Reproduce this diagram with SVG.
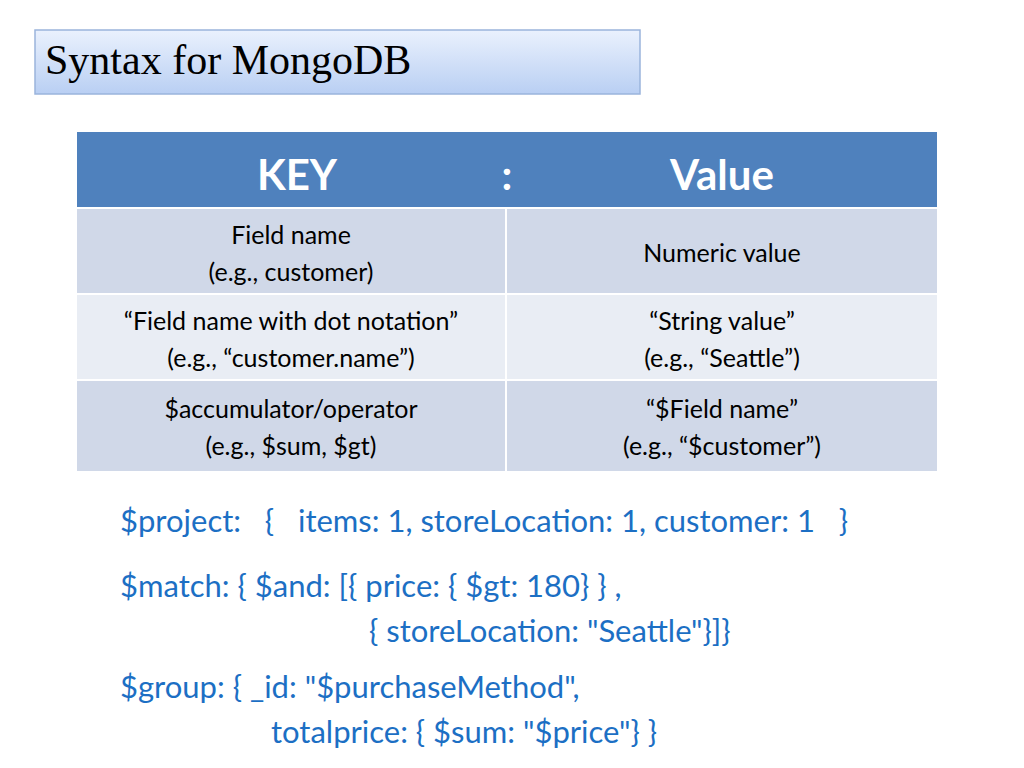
<svg xmlns="http://www.w3.org/2000/svg" width="1024" height="768" viewBox="0 0 1024 768">
<defs>
<linearGradient id="tg" x1="0" y1="0" x2="0" y2="1"><stop offset="0" stop-color="#eaf1fd"/><stop offset="1" stop-color="#b9cff3"/></linearGradient>
<style>
.c{font-family:Lato,"Open Sans",sans-serif;font-size:25px;fill:#000;text-anchor:middle}
.h{font-family:Lato,"Open Sans",sans-serif;font-size:42px;font-weight:bold;fill:#fff;text-anchor:middle}
.k{font-family:Lato,"Open Sans",sans-serif;font-size:31px;fill:#1c6fc4}
.d{fill:#d0d8e8}.l{fill:#e9edf4}
</style>
</defs>
<rect width="1024" height="768" fill="#fff"/>
<g id="title"><rect x="35" y="30" width="605" height="64" fill="url(#tg)" stroke="#9ab4dc" stroke-width="1.5"/>
<text x="45" y="74" font-family="Liberation Serif,serif" font-size="42" fill="#000">Syntax for MongoDB</text></g>
<g id="table">
<rect x="77" y="132" width="860" height="75" fill="#4f81bd"/>
<text class="h" x="297" y="190">KEY</text><text class="h" x="507" y="190">:</text><text class="h" x="722" y="190">Value</text>
<rect x="77" y="209" width="428" height="84" class="d"/><rect x="507" y="209" width="430" height="84" class="d"/>
<rect x="77" y="295" width="428" height="84" class="l"/><rect x="507" y="295" width="430" height="84" class="l"/>
<rect x="77" y="381" width="428" height="90" class="d"/><rect x="507" y="381" width="430" height="90" class="d"/>
<text class="c" x="291" y="244">Field name</text><text class="c" x="291" y="281">(e.g., customer)</text>
<text class="c" x="722" y="262">Numeric value</text>
<text class="c" x="291" y="330">“Field name with dot notation”</text><text class="c" x="291" y="367">(e.g., “customer.name”)</text>
<text class="c" x="722" y="330">“String value”</text><text class="c" x="722" y="367">(e.g., “Seattle”)</text>
<text class="c" x="291" y="418">$accumulator/operator</text><text class="c" x="291" y="455">(e.g., $sum, $gt)</text>
<text class="c" x="722" y="418">“$Field name”</text><text class="c" x="722" y="455">(e.g., “$customer”)</text>
</g>
<g id="code">
<text class="k" x="120" y="532" xml:space="preserve">$project:   {   items: 1, storeLocation: 1, customer: 1   }</text>
<text class="k" x="120" y="597">$match: { $and: [{ price: { $gt: 180} } ,</text>
<text class="k" x="369" y="642">{ storeLocation: "Seattle"}]}</text>
<text class="k" x="120" y="698">$group:  { _id: "$purchaseMethod",</text>
<text class="k" x="271" y="743">totalprice: { $sum: "$price"}  }</text>
</g>
</svg>
